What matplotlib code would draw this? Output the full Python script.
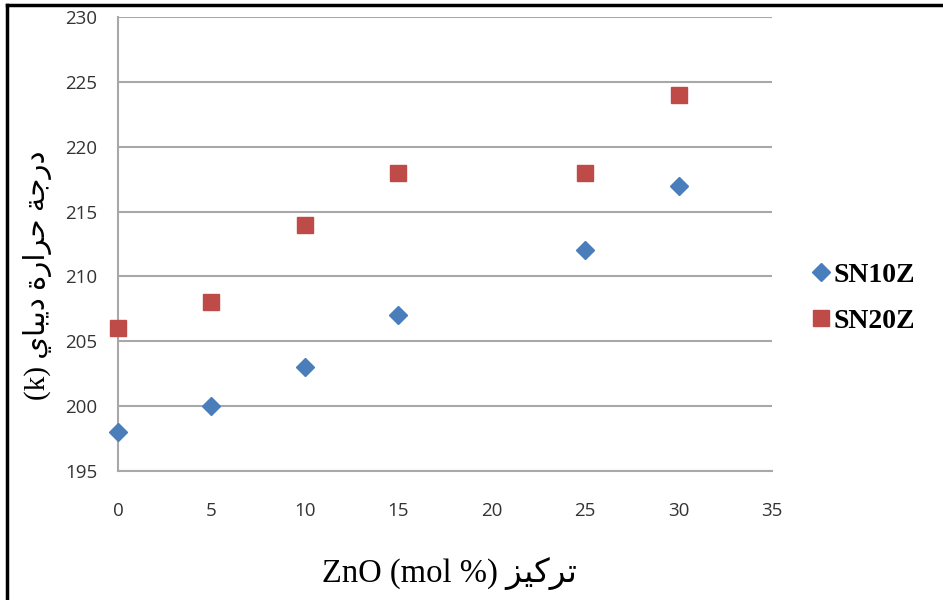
import matplotlib
matplotlib.use("Agg")
import matplotlib.pyplot as plt
from matplotlib.lines import Line2D

# Data
zno_mol = [0, 5, 10, 15, 25, 30]
sn10z = [198, 200, 203, 207, 212, 217]
sn20z = [206, 208, 214, 218, 218, 224]
series_names = ["SN10Z", "SN20Z"]
x_ticks = [0, 5, 10, 15, 20, 25, 30, 35]
y_ticks = [195, 200, 205, 210, 215, 220, 225, 230]

# Arabic labels written in shaped presentation forms, visual (left-to-right) order
ylabel_text = "(k) \uFEF1\uFE8E\uFE92\uFEF3\uFEA9 \uFE93\uFEAD\uFE8D\uFEAE\uFEA3 \uFE94\uFE9F\uFEAD\uFEA9"
xlabel_text = "ZnO (mol %) \uFEB0\uFEF4\uFEDB\uFEAE\uFE97"

blue = "#4A7EBB"
red = "#BE4B48"
grid_c = "#A8A8A8"
tick_c = "#333333"

fig = plt.figure(figsize=(9.43, 6.0), dpi=100)
ax = fig.add_axes([0.1251, 0.215, 0.8187 - 0.1251, 0.9717 - 0.215])

ax.plot(zno_mol, sn10z, linestyle="none", marker="D", markersize=9.5,
        color=blue, markeredgecolor=blue, label=series_names[0], zorder=3,
        clip_on=False)
ax.plot(zno_mol, sn20z, linestyle="none", marker="s", markersize=12,
        color=red, markeredgecolor=red, label=series_names[1], zorder=3,
        clip_on=False)

ax.set_xlim(0, 35)
ax.set_ylim(195, 230)
ax.set_xticks(x_ticks)
ax.set_yticks(y_ticks)
ax.yaxis.grid(True, color=grid_c, linewidth=1.5)
ax.xaxis.grid(False)
ax.set_axisbelow(True)
for s in ["top", "right"]:
    ax.spines[s].set_visible(False)
for s in ["left", "bottom"]:
    ax.spines[s].set_color(grid_c)
    ax.spines[s].set_linewidth(1.5)
ax.tick_params(axis="both", length=0, labelsize=13.5, colors=tick_c)
ax.tick_params(axis="x", pad=22)
ax.tick_params(axis="y", pad=15)
for lab in ax.get_xticklabels() + ax.get_yticklabels():
    lab.set_fontfamily(["Open Sans", "DejaVu Sans"])
    lab.set_fontweight("medium")

fig.text(0.477, 0.045, xlabel_text, ha="center", va="center", fontsize=23.5,
         family=["Liberation Serif", "DejaVu Sans"], color="black")
fig.text(0.040, 0.542, ylabel_text, ha="center", va="center", fontsize=21,
         rotation=90, family=["Liberation Serif", "DejaVu Sans"], color="black")

fig.legend(handles=ax.get_lines(), labels=series_names,
           loc="center left", bbox_to_anchor=(0.862, 0.503), frameon=False,
           handlelength=0.6, handletextpad=0.15, labelspacing=0.75,
           borderpad=0, borderaxespad=0,
           prop={"family": "Liberation Serif", "weight": "bold", "size": 20})

# Outer frame: top and left edges
fig.add_artist(Line2D([0.0078, 1.0], [0.9917, 0.9917], transform=fig.transFigure,
                      color="black", linewidth=2.5))
fig.add_artist(Line2D([0.0078, 0.0078], [0.0, 0.9917], transform=fig.transFigure,
                      color="black", linewidth=2.5))

fig.savefig("out.png", dpi=100, facecolor="white")
